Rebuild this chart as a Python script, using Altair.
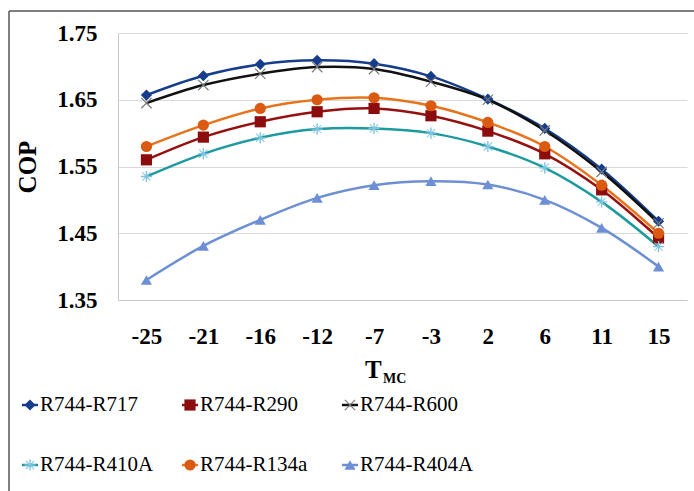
import altair as alt
import pandas as pd

temps = ["-25", "-21", "-16", "-12", "-7", "-3", "2", "6", "11", "15"]
series = ["R744-R717", "R744-R290", "R744-R600", "R744-R410A", "R744-R134a", "R744-R404A"]
r717 = [1.657, 1.686, 1.703, 1.709, 1.704, 1.685, 1.651, 1.607, 1.546, 1.468]
r290 = [1.560, 1.594, 1.617, 1.632, 1.637, 1.626, 1.603, 1.569, 1.515, 1.443]
r600 = [1.645, 1.672, 1.689, 1.699, 1.696, 1.677, 1.650, 1.604, 1.542, 1.465]
r410a = [1.535, 1.569, 1.593, 1.606, 1.607, 1.600, 1.580, 1.548, 1.497, 1.430]
r134a = [1.580, 1.612, 1.637, 1.650, 1.653, 1.641, 1.616, 1.580, 1.522, 1.450]
r404a = [1.380, 1.431, 1.470, 1.503, 1.522, 1.528, 1.523, 1.500, 1.458, 1.400]
y_ticks = [1.35, 1.45, 1.55, 1.65, 1.75]

line_colors = ["#163d8c", "#961010", "#111111", "#1d9a9e", "#e8731a", "#6d8fd4"]
marker_colors = ["#163d8c", "#8c0d0d", "#7a7a7a", "#7cc4e0", "#d95a10", "#6d8fd4"]

X_PATH = ("M-1,-0.85L-0.85,-1L1,0.85L0.85,1Z"
          "M0.85,-1L1,-0.85L-0.85,1L-1,0.85Z")
STAR_PATH = ("M-1,-0.12L1,-0.12L1,0.12L-1,0.12Z"
             "M-0.12,-1L0.12,-1L0.12,1L-0.12,1Z"
             "M-0.8,-0.68L-0.68,-0.8L0.8,0.68L0.68,0.8Z"
             "M0.68,-0.8L0.8,-0.68L-0.68,0.8L-0.8,0.68Z")
shapes = ["diamond", "square", X_PATH, STAR_PATH, "circle", "triangle-up"]

values = [r717, r290, r600, r410a, r134a, r404a]
rows = []
for s, vals in zip(series, values):
    for t, v in zip(temps, vals):
        rows.append({"T": t, "COP": v, "series": s})
df = pd.DataFrame(rows)

leg_df = pd.DataFrame({
    "series": series,
    "col": [i % 3 for i in range(len(series))],
    "row": [i // 3 for i in range(len(series))],
})

FONT = "Liberation Serif"

color_scale = alt.Scale(domain=series, range=marker_colors)
stroke_scale = alt.Scale(domain=series, range=line_colors)
shape_scale = alt.Scale(domain=series, range=shapes)

x_enc = alt.X(
    "T:O",
    sort=temps,
    scale=alt.Scale(paddingInner=0, paddingOuter=0.5),
    axis=alt.Axis(
        title=None, labelAngle=0, ticks=False, labelFont=FONT, labelFontSize=23,
        labelFontWeight="bold", labelColor="#000", labelPadding=25,
        domainColor="#c8c8c8", grid=False,
    ),
)
y_enc = alt.Y(
    "COP:Q",
    scale=alt.Scale(domain=[1.35, 1.75], nice=False, zero=False),
    axis=alt.Axis(
        title="COP", values=y_ticks, format=".2f", ticks=False, labelFont=FONT,
        labelFontSize=23, labelFontWeight="bold", labelColor="#000", labelPadding=21,
        titleFont=FONT, titleFontSize=25, titleFontWeight="bold", titleColor="#000",
        titlePadding=16, domainColor="#c8c8c8", gridColor="#d9d9d9",
    ),
)

base = alt.Chart(df)
lines = base.mark_line(interpolate="catmull-rom", strokeWidth=2.5).encode(
    x=x_enc, y=y_enc,
    stroke=alt.Stroke("series:N", scale=stroke_scale, legend=None),
    detail="series:N",
)
points = base.mark_point(filled=True, size=125, opacity=1).encode(
    x=x_enc, y=y_enc,
    color=alt.Color("series:N", scale=color_scale, legend=None),
    shape=alt.Shape("series:N", scale=shape_scale, legend=None),
)

tdf = pd.DataFrame({"t": ["T"]})
mcdf = pd.DataFrame({"t": ["MC"]})
t_text = alt.Chart(tdf).mark_text(font=FONT, fontSize=25, fontWeight="bold", align="left", baseline="alphabetic", color="#000").encode(
    text="t:N", x=alt.value(247), y=alt.value(345)
)
mc_text = alt.Chart(mcdf).mark_text(font=FONT, fontSize=14, fontWeight="bold", align="left", baseline="alphabetic", color="#000").encode(
    text="t:N", x=alt.value(265), y=alt.value(350)
)

fdf = pd.DataFrame({"k": [0]})
top_rule = alt.Chart(fdf).mark_rule(color="#555555", strokeWidth=1.5).encode(
    x=alt.value(-109), x2=alt.value(580), y=alt.value(-22)
)
left_rule = alt.Chart(fdf).mark_rule(color="#555555", strokeWidth=1.5).encode(
    x=alt.value(-109), y=alt.value(-22), y2=alt.value(458)
)

main = alt.layer(lines, points, t_text, mc_text, top_rule, left_rule)

# legend built from the series list, laid out on its own scales
lx = alt.X("col:Q", scale=alt.Scale(domain=[0, 2], range=[-88, 232]), axis=None)
ly = alt.Y("row:Q", scale=alt.Scale(domain=[0, 1], range=[372, 432]), axis=None)
lbase = alt.Chart(leg_df)
leg_line = lbase.mark_point(shape="stroke", size=260, strokeWidth=2.5, filled=False, opacity=1).encode(
    x=lx, y=ly, stroke=alt.Stroke("series:N", scale=stroke_scale, legend=None)
)
leg_sym = lbase.mark_point(filled=True, size=125, opacity=1).encode(
    x=lx, y=ly,
    color=alt.Color("series:N", scale=color_scale, legend=None),
    shape=alt.Shape("series:N", scale=shape_scale, legend=None),
)
leg_txt = lbase.mark_text(font=FONT, fontSize=21, align="left", baseline="middle", dx=10, color="#000").encode(
    x=lx, y=ly, text="series:N"
)
leg = alt.layer(leg_line, leg_sym, leg_txt)

chart = alt.layer(main, leg).resolve_scale(x="independent", y="independent").properties(
    width=569, height=267,
    autosize=alt.AutoSizeParams(type="none"),
    padding={"left": 118, "top": 33, "right": 7, "bottom": 191},
    background="white",
).configure_view(stroke=None)

chart.save("out.html", embed_options={"renderer": "svg", "actions": False})
